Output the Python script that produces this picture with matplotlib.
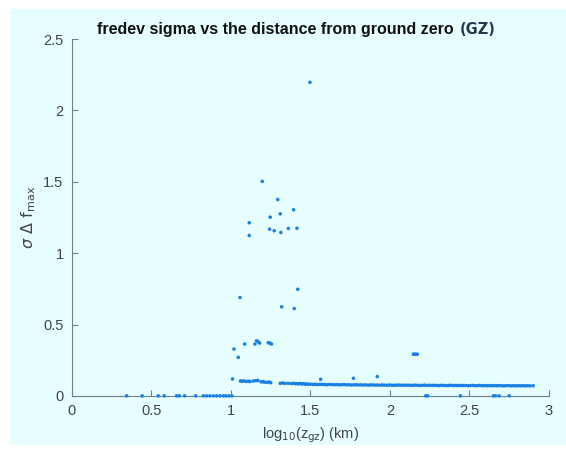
import numpy as np
import matplotlib.pyplot as plt
from matplotlib.patches import Rectangle

### Data ###
# points sitting on zero
zero_x = [0.344, 0.442, 0.543, 0.581, 0.658, 0.675, 0.709, 0.778, 0.826, 0.847,
          0.868, 0.889, 0.910, 0.931, 0.952, 0.967, 0.987, 1.006,
          2.225, 2.237, 2.443, 2.650, 2.663, 2.686, 2.750]
zero_y = [0.0] * len(zero_x)

# scattered high values
high_x = [1.497, 1.197, 1.294, 1.394, 1.310, 1.247, 1.115, 1.243, 1.272, 1.314,
          1.361, 1.415, 1.115, 1.420, 1.057, 1.319, 1.398,
          1.086, 1.161, 1.172, 1.180, 1.151, 1.235, 1.245, 1.255, 1.019, 1.046,
          2.147, 2.155, 2.163, 2.172]
high_y = [2.197, 1.503, 1.376, 1.304, 1.276, 1.252, 1.213, 1.168, 1.157, 1.145,
          1.173, 1.175, 1.124, 0.747, 0.689, 0.624, 0.612,
          0.363, 0.386, 0.379, 0.370, 0.363, 0.372, 0.370, 0.363, 0.328, 0.270,
          0.292, 0.292, 0.292, 0.292]

# low band just above zero
band_x = [1.010, 1.060, 1.070, 1.080, 1.095, 1.110, 1.120, 1.140, 1.155, 1.170,
          1.190, 1.200, 1.210, 1.225, 1.240, 1.250, 1.310, 1.325, 1.340, 1.360,
          1.380, 1.395, 1.405, 1.415, 1.425, 1.435, 1.445, 1.455, 1.465, 1.475,
          1.564, 1.770, 1.920,
          1.485, 1.500, 1.515, 1.530, 1.545, 1.560, 1.575, 1.590, 1.605, 1.620,
          1.635, 1.650, 1.665, 1.680, 1.695, 1.710, 1.725, 1.740, 1.755, 1.770,
          1.785, 1.800, 1.815, 1.830, 1.845, 1.860, 1.875, 1.890, 1.905, 1.920,
          1.935, 1.950, 1.965, 1.980, 1.995, 2.010, 2.025, 2.040, 2.055, 2.070,
          2.085, 2.100, 2.115, 2.130, 2.145, 2.160, 2.175, 2.190, 2.205, 2.220,
          2.235, 2.250, 2.265, 2.280, 2.295, 2.310, 2.325, 2.340, 2.355, 2.370,
          2.385, 2.400, 2.415, 2.430, 2.445, 2.460, 2.475, 2.490, 2.505, 2.520,
          2.535, 2.550, 2.565, 2.580, 2.595, 2.610, 2.625, 2.640, 2.655, 2.670,
          2.685, 2.700, 2.715, 2.730, 2.745, 2.760, 2.775, 2.790, 2.805, 2.820,
          2.835, 2.850, 2.865, 2.880, 2.900]
band_y = [0.118, 0.104, 0.102, 0.105, 0.101, 0.103, 0.100, 0.104, 0.106, 0.108,
          0.098, 0.100, 0.096, 0.094, 0.097, 0.092, 0.088, 0.090, 0.087, 0.088,
          0.086, 0.088, 0.085, 0.086, 0.084, 0.087, 0.083, 0.085, 0.082, 0.084,
          0.116, 0.123, 0.135,
          0.081, 0.082, 0.080, 0.081, 0.079, 0.080, 0.081, 0.079, 0.078, 0.080,
          0.079, 0.078, 0.079, 0.077, 0.078, 0.079, 0.077, 0.078, 0.076, 0.077,
          0.078, 0.076, 0.077, 0.076, 0.077, 0.075, 0.076, 0.077, 0.075, 0.076,
          0.075, 0.076, 0.075, 0.074, 0.076, 0.075, 0.074, 0.075, 0.076, 0.074,
          0.075, 0.074, 0.075, 0.073, 0.074, 0.075, 0.074, 0.073, 0.074, 0.075,
          0.073, 0.074, 0.073, 0.074, 0.073, 0.072, 0.074, 0.073, 0.072, 0.073,
          0.074, 0.072, 0.073, 0.072, 0.073, 0.072, 0.073, 0.071, 0.072, 0.073,
          0.071, 0.072, 0.073, 0.071, 0.072, 0.071, 0.072, 0.071, 0.072, 0.071,
          0.072, 0.071, 0.070, 0.071, 0.072, 0.070, 0.071, 0.070, 0.071, 0.070,
          0.071, 0.070, 0.071, 0.070, 0.071]

xticks = [0, 0.5, 1, 1.5, 2, 2.5, 3]
xticklabels = ['0', '0.5', '1', '1.5', '2', '2.5', '3']
yticks = [0, 0.5, 1, 1.5, 2, 2.5]
yticklabels = ['0', '0.5', '1', '1.5', '2', '2.5']

### Style ###
bg = '#e6fefe'
dot = '#1a7fe4'
axcol = '#6f7f90'
txtcol = '#404448'

plt.rcParams['font.family'] = ['Liberation Sans', 'DejaVu Sans']

fig = plt.figure(figsize=(5.66, 4.55), dpi=100)
fig.patch.set_facecolor('white')
bgrect = Rectangle((10 / 566, 10 / 455), 1 - 10 / 566, 1 - 19 / 455,
                   transform=fig.transFigure, facecolor=bg,
                   edgecolor='none', zorder=-10)
fig.add_artist(bgrect)

ax = fig.add_axes([0.127, 0.130, 0.843, 0.784])
ax.set_zorder(5)
ax.set_facecolor('none')

for xs, ys in [(zero_x, zero_y), (high_x, high_y), (band_x, band_y)]:
    ax.scatter(xs, ys, s=6.5, color=dot, edgecolors='none', zorder=3,
               clip_on=False)

ax.set_xlim(0, 3)
ax.set_ylim(0, 2.5)
ax.set_xticks(xticks)
ax.set_xticklabels(xticklabels)
ax.set_yticks(yticks)
ax.set_yticklabels(yticklabels)

ax.spines['top'].set_visible(False)
ax.spines['right'].set_visible(False)
for s in ['left', 'bottom']:
    ax.spines[s].set_color(axcol)
    ax.spines[s].set_linewidth(0.8)
ax.tick_params(direction='in', length=4, width=0.8, color=axcol,
               labelcolor=txtcol, labelsize=10.5, pad=6)

ax.set_xlabel(r'log$_{10}$(z$_{\rm gz}$) (km)', fontsize=10.5, color=txtcol,
              labelpad=5)
ax.set_ylabel(r'$\sigma\ \Delta\ \mathrm{f}_{\mathrm{max}}$', fontsize=11.5,
              color=txtcol, labelpad=4)

fig.text(0.171, 0.935, 'fredev sigma vs the distance from ground zero',
         fontsize=11.5, fontweight='bold', color='#111111', ha='left',
         va='center', zorder=6)
fig.text(0.812, 0.935, '(GZ)', fontsize=10.5, fontweight='bold',
         color='#2a3550', ha='left', va='center', family='DejaVu Sans',
         zorder=6)

fig.savefig('out.png', dpi=100, facecolor=fig.get_facecolor())
